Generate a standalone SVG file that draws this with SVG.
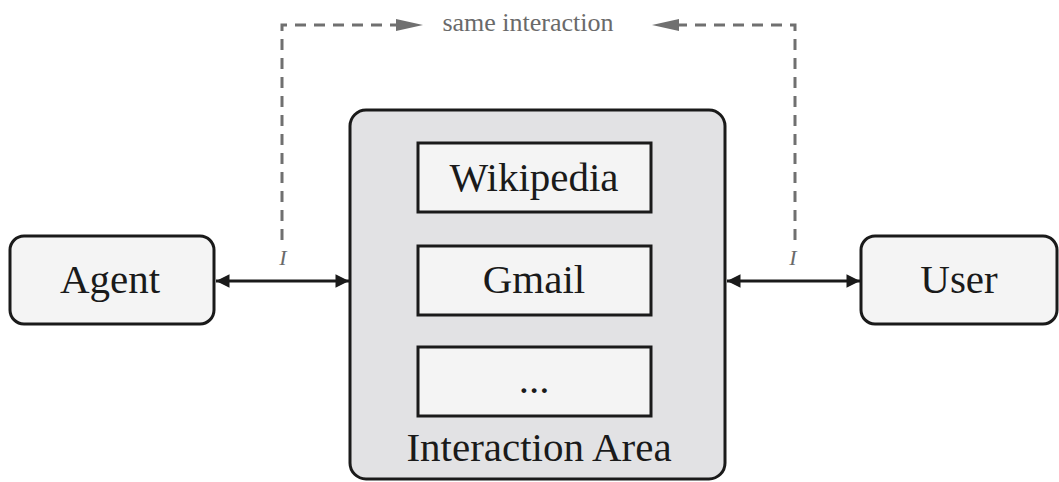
<svg xmlns="http://www.w3.org/2000/svg" width="1059" height="482" viewBox="0 0 1059 482">
<style>
.node{fill:#f4f4f4;stroke:#1a1a1a;stroke-width:3}
.lbl{font-family:"Liberation Serif","Times New Roman",serif;font-size:41px;fill:#1a1a1a;text-anchor:middle}
.dash{fill:none;stroke:#707070;stroke-width:3;stroke-dasharray:11 8}
.conn{stroke:#1a1a1a;stroke-width:3;fill:none}
.gl{font-family:"Liberation Serif","Times New Roman",serif;fill:#6a6a6a;text-anchor:middle}
</style>
<defs>
<marker id="ah" viewBox="0 0 10 10" refX="10" refY="5" markerWidth="6" markerHeight="4.5" markerUnits="strokeWidth" orient="auto-start-reverse">
<path d="M0,0 L10,5 L0,10 Z" fill="#1a1a1a"/>
</marker>
</defs>
<g id="interaction-area">
<rect x="350" y="110" width="375" height="369" rx="16" fill="#e2e2e4" stroke="#1a1a1a" stroke-width="3"/>
<text class="lbl" x="539" y="461">Interaction Area</text>
</g>
<g id="wikipedia">
<rect class="node" x="418" y="143" width="233" height="69" rx="0"/>
<text class="lbl" x="534" y="191">Wikipedia</text>
</g>
<g id="gmail">
<rect class="node" x="418" y="246" width="233" height="69"/>
<text class="lbl" x="534" y="293">Gmail</text>
</g>
<g id="more">
<rect class="node" x="418" y="347" width="233" height="69"/>
<text class="lbl" x="534" y="393">...</text>
</g>
<g id="agent">
<rect class="node" x="10" y="236" width="204" height="88" rx="14"/>
<text class="lbl" x="110" y="293">Agent</text>
</g>
<g id="user">
<rect class="node" x="861" y="236" width="196" height="88" rx="14"/>
<text class="lbl" x="959" y="293">User</text>
</g>
<g id="connectors">
<line class="conn" x1="216" y1="281" x2="349" y2="281" marker-start="url(#ah)" marker-end="url(#ah)"/>
<line class="conn" x1="727" y1="281" x2="860" y2="281" marker-start="url(#ah)" marker-end="url(#ah)"/>
<path class="dash" d="M282,240 L282,25 L400,25"/>
<path d="M396,19 L423,25 L396,31 Z" fill="#707070"/>
<path class="dash" d="M795,240 L795,25 L676,25"/>
<path d="M679,19 L652,25 L679,31 Z" fill="#707070"/>
<text class="gl" x="528" y="31" font-size="26">same interaction</text>
<text class="gl" x="283" y="265" font-size="22" font-style="italic">I</text>
<text class="gl" x="793" y="265" font-size="22" font-style="italic">I</text>
</g>
</svg>
